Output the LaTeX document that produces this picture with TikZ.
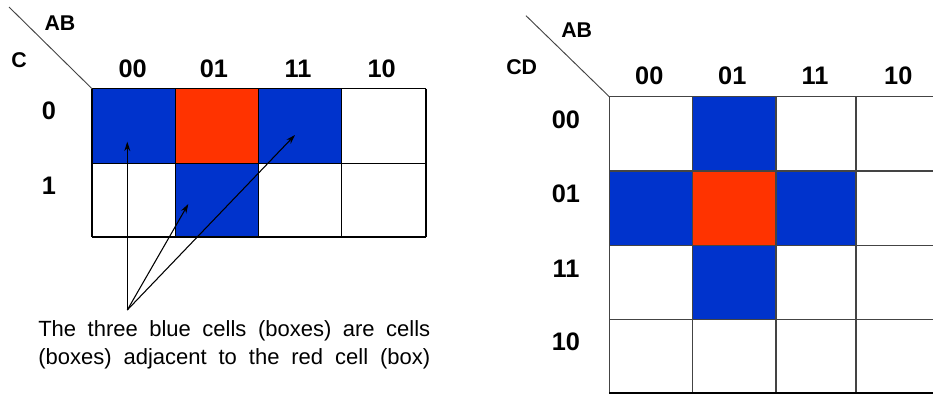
\documentclass[tikz,border=0pt]{standalone}
\usepackage{fontspec}
\setmainfont{Liberation Sans}
\usetikzlibrary{arrows.meta}
\definecolor{kblue}{HTML}{0033CC}
\definecolor{kred}{HTML}{FF3300}
\definecolor{kgrid}{HTML}{444444}
\tikzset{
  lbl/.style={font=\bfseries\fontsize{19}{22}\selectfont, inner sep=0pt},
  varlbl/.style={font=\bfseries\fontsize{16}{19}\selectfont, inner sep=0pt},
  note/.style={font=\fontsize{16.5}{21}\selectfont, inner sep=0pt, anchor=base west},
  gridline/.style={line width=1.1pt},
  outer/.style={line width=1.6pt},
  ptr/.style={line width=0.8pt, -{Stealth[length=7pt,width=4.5pt]}},
  diag/.style={line width=0.7pt, draw=kgrid}
}
\begin{document}
\begin{tikzpicture}[x=0.75pt,y=-0.75pt]
\useasboundingbox (0,0) rectangle (933,394);
% ---------- Left map ----------
\fill[kblue] (92,88.7) rectangle (175.3,163.3);
\fill[kred]  (175.3,88.7) rectangle (258.3,163.3);
\fill[kblue] (258.3,88.7) rectangle (341.7,163.3);
\fill[kblue] (175.3,163.3) rectangle (258.3,237.3);
\draw[gridline] (92,88.7) -- (425.7,88.7);
\draw[gridline] (92,163.3) -- (425.7,163.3);
\foreach \x in {92,175.3,258.3,341.7} \draw[gridline] (\x,88.7) -- (\x,237.3);
\draw[outer] (92,237.3) -- (425.7,237.3);
\draw[outer] (425.7,88.7) -- (425.7,237.3);
\draw[diag] (9,7) -- (92,88.7);
\node[varlbl] (lAB) at (60,22.7) {AB};
\node[varlbl] (lC) at (19,60) {C};
\node[lbl] (lc00) at (132.7,69) {00};
\node[lbl] (lc01) at (214,69) {01};
\node[lbl] (lc11) at (298,69) {11};
\node[lbl] (lc10) at (381.7,69) {10};
\node[lbl] (lr0) at (49,111) {0};
\node[lbl] (lr1) at (49,185.7) {1};
% arrows
\coordinate (apex) at (127.3,310);
\coordinate (t1) at (127.3,141.7);
\coordinate (t2) at (188.3,204);
\coordinate (t3) at (295,135);
\draw[ptr] (apex) -- (t1);
\draw[ptr] (apex) -- (t2);
\draw[ptr] (apex) -- (t3);
\node[note] (note1) at (38,336) {\makebox[294pt][s]{The three blue cells (boxes) are cells}};
\node[note] (note2) at (38,364) {\makebox[294pt][s]{(boxes) adjacent to the red cell (box)}};
% ---------- Right map ----------
\fill[kblue] (692.7,96.7) rectangle (776,171);
\fill[kblue] (609.3,171) rectangle (692.7,245.7);
\fill[kred]  (692.7,171) rectangle (776,245.7);
\fill[kblue] (776,171) rectangle (856,245.7);
\fill[kblue] (692.7,245.7) rectangle (776,319.3);
\foreach \y in {96.7,171,245.7,319.3} \draw[gridline,kgrid] (609.3,\y) -- (933,\y);
\foreach \x in {609.3,692.7,776,856} \draw[gridline,kgrid] (\x,96.7) -- (\x,393.3);
\draw[outer] (609.3,393.3) -- (933,393.3);
\draw[diag] (526,15.7) -- (609.3,96.7);
\node[varlbl] (rAB) at (576.7,30) {AB};
\node[varlbl] (rCD) at (521.7,66.7) {CD};
\node[lbl] (rc00) at (649.3,76) {00};
\node[lbl] (rc01) at (732.3,76) {01};
\node[lbl] (rc11) at (815,76) {11};
\node[lbl] (rc10) at (898.3,76) {10};
\node[lbl] (rr00) at (566,120) {00};
\node[lbl] (rr01) at (566,194) {01};
\node[lbl] (rr11) at (566,268.3) {11};
\node[lbl] (rr10) at (566,341.7) {10};
\end{tikzpicture}
\end{document}
